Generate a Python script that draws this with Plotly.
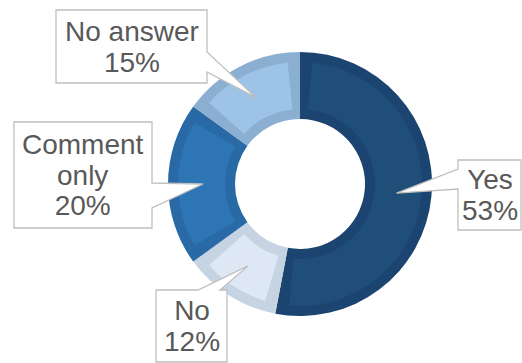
import math
import plotly.graph_objects as go

# ---- data ----
labels = ["Yes", "No", "Comment only", "No answer"]
label_lines = ["Yes", "No", "Comment<br>only", "No answer"]
values = [53, 12, 20, 15]

# ---- styling ----
fill_colors = ["#1F4E79", "#DDE8F4", "#2E75B6", "#9DC3E6"]
band_colors = ["#1B4570", "#C6D3E2", "#2969A5", "#8AAFD1"]
TEXT_COLOR = "#595959"
BOX_LINE = "#BFBFBF"

W, H = 522, 363
CX, CY = 300, 184          # donut centre (px)
R_OUT, R_IN = 132, 65      # donut radii (px)
BAND = 10                  # darker inner border width (px)
R_TIP = 97                 # callout pointer tip radius (px)

# callout boxes: x0, y0, x1, y1, side of pointer, pointer base start, end (px)
boxes = {
    "Yes": (458, 160, 521, 230, "left", 169, 189),
    "No": (156, 290, 227, 362, "top", 198, 220),
    "Comment only": (14, 122, 152, 228, "right", 183, 208),
    "No answer": (56, 10, 207, 83, "right", 52, 72),
}


def px(x):
    return x / W


def py(y):
    return 1 - y / H


def domain(r):
    return dict(x=[px(CX - r), px(CX + r)], y=[py(CY + r), py(CY - r)])


fig = go.Figure()

# outer (darker) ring
fig.add_trace(go.Pie(
    values=values, labels=labels, sort=False, direction="clockwise", rotation=0,
    hole=R_IN / R_OUT, domain=domain(R_OUT),
    marker=dict(colors=band_colors, line=dict(width=0)),
    textinfo="none", hoverinfo="label+percent", showlegend=False,
))

# inner (lighter) ring, inset by BAND on every side
r_o, r_i = R_OUT - BAND, R_IN + BAND
total = sum(values)
g = BAND / ((r_o + r_i) / 2) / (2 * math.pi) * total
inner_vals, inner_cols, inner_labels = [g], ["rgba(0,0,0,0)"], ["gap0"]
for i, (lab, v, c) in enumerate(zip(labels, values, fill_colors)):
    inner_vals.append(v - 2 * g)
    inner_cols.append(c)
    inner_labels.append(lab + " ")
    inner_vals.append(g if i == len(values) - 1 else 2 * g)
    inner_cols.append("rgba(0,0,0,0)")
    inner_labels.append("gap%d" % (i + 1))
fig.add_trace(go.Pie(
    values=inner_vals, labels=inner_labels, sort=False, direction="clockwise",
    rotation=0, hole=r_i / r_o, domain=domain(r_o),
    marker=dict(colors=inner_cols, line=dict(width=0)),
    textinfo="none", hoverinfo="skip", showlegend=False,
))

# callouts
shapes, annotations = [], []
cum = 0
for lab, lines, v in zip(labels, label_lines, values):
    mid = (cum + v / 2) / total * 2 * math.pi
    cum += v
    tx = CX + R_TIP * math.sin(mid)
    ty = CY - R_TIP * math.cos(mid)
    x0, y0, x1, y1, side, a, b = boxes[lab]
    pts = [(x0, y0)]
    if side == "top":
        pts += [(a, y0), (tx, ty), (b, y0)]
    pts.append((x1, y0))
    if side == "right":
        pts += [(x1, a), (tx, ty), (x1, b)]
    pts.append((x1, y1))
    pts.append((x0, y1))
    if side == "left":
        pts += [(x0, b), (tx, ty), (x0, a)]
    path = "M " + " L ".join("%.5f,%.5f" % (px(x), py(y)) for x, y in pts) + " Z"
    shapes.append(dict(type="path", path=path, xref="paper", yref="paper",
                       fillcolor="white", line=dict(color=BOX_LINE, width=1.3),
                       layer="above"))
    pct = round(v / total * 100)
    text = "<br>".join("<span style='font-size:28px'>%s</span>" % t
                       for t in (lines.split("<br>") + ["%d%%" % pct]))
    annotations.append(dict(
        x=px((x0 + x1) / 2), y=py((y0 + y1) / 2), xref="paper", yref="paper",
        xanchor="center", yanchor="middle", showarrow=False, align="center",
        text=text, font=dict(family="Arial, Liberation Sans", size=23.5,
                             color=TEXT_COLOR),
    ))

fig.update_layout(
    width=W, height=H, margin=dict(l=0, r=0, t=0, b=0),
    paper_bgcolor="white", plot_bgcolor="white", showlegend=False,
    shapes=shapes, annotations=annotations,
)

fig.write_html("out.html")
